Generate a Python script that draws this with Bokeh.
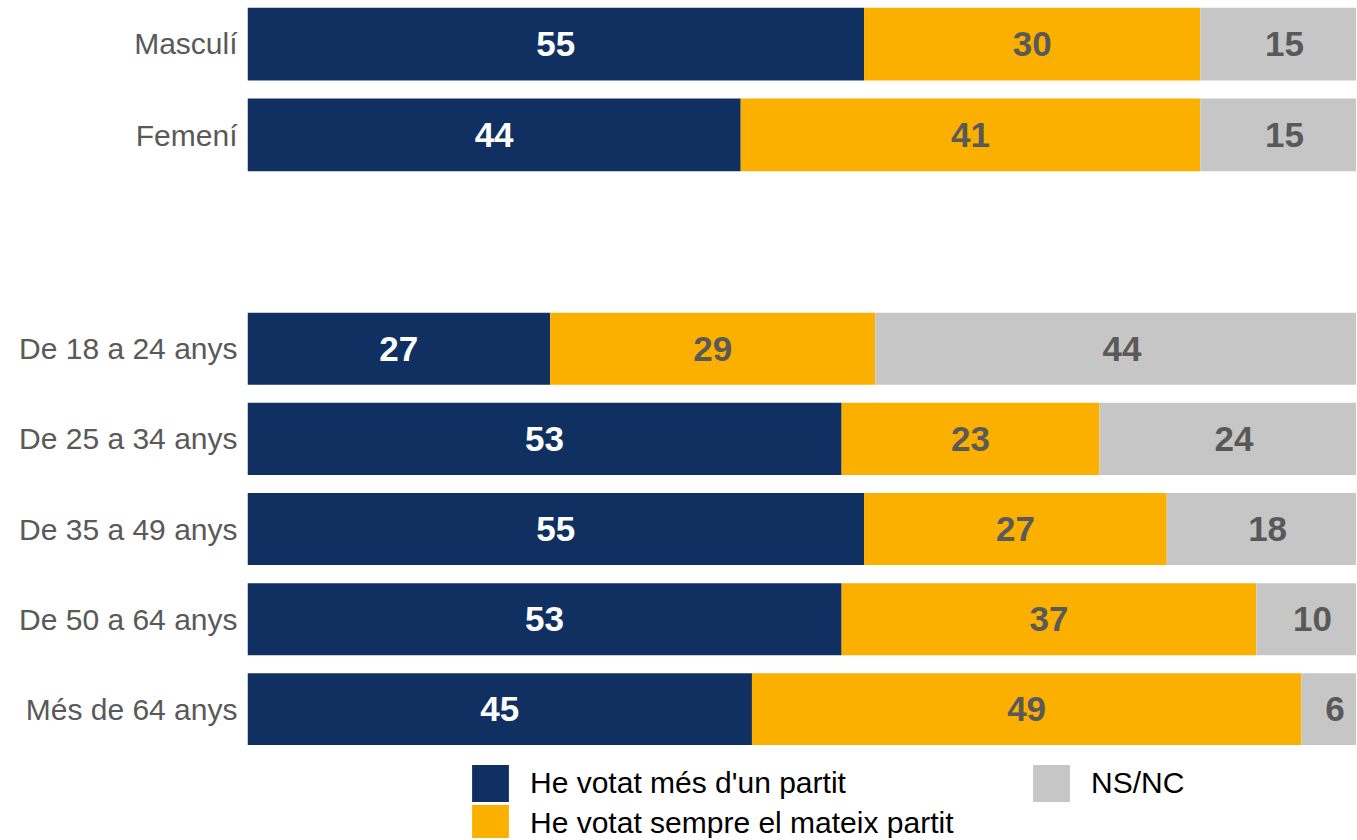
from bokeh.plotting import figure
from bokeh.models import ColumnDataSource, FactorRange, Range1d, Legend, LegendItem
from bokeh.layouts import column
from bokeh.embed import file_html
from bokeh.resources import INLINE
from bokeh.core.properties import value

# ---- data ----
series = ["He votat més d'un partit", "He votat sempre el mateix partit", "NS/NC"]
colors = ["#103062", "#FBB000", "#C6C6C6"]
value_colors = ["#FFFFFF", "#595959", "#595959"]

cats_sex = ["Masculí", "Femení"]
sex_multi = [55, 44]
sex_same = [30, 41]
sex_nsnc = [15, 15]

cats_age = ["De 18 a 24 anys", "De 25 a 34 anys", "De 35 a 49 anys", "De 50 a 64 anys", "Més de 64 anys"]
age_multi = [27, 53, 55, 53, 45]
age_same = [29, 23, 27, 37, 49]
age_nsnc = [44, 24, 18, 10, 6]

FONT = "Liberation Sans"
W = 1356
XMAX = 98.93


def make_fig(cats, vals, height, pad, border_top, border_bottom):
    yr = FactorRange(*list(reversed(cats)), range_padding=pad)
    p = figure(y_range=yr, x_range=Range1d(0, XMAX), width=W, height=height,
               output_backend="svg", toolbar_location=None, x_axis_location=None,
               min_border_left=247, min_border_right=0, min_border_top=border_top,
               min_border_bottom=border_bottom)
    p.outline_line_color = None
    p.grid.visible = False
    p.yaxis.axis_line_color = None
    p.yaxis.major_tick_line_color = None
    p.yaxis.major_tick_out = 0
    p.yaxis.major_tick_in = 0
    p.yaxis.minor_tick_line_color = None
    p.yaxis.major_label_standoff = 10
    p.yaxis.major_label_text_font = FONT
    p.yaxis.major_label_text_font_size = "30px"
    p.yaxis.major_label_text_color = "#595959"

    keys = ["s0", "s1", "s2"]
    data = {"cat": cats}
    for k, v in zip(keys, vals):
        data[k] = v
    src = ColumnDataSource(data)
    p.hbar_stack(keys, y="cat", height=0.8, color=colors, line_width=0, source=src)

    left = [0] * len(cats)
    for i, v in enumerate(vals):
        mids = [l + x / 2 for l, x in zip(left, v)]
        left = [l + x for l, x in zip(left, v)]
        tsrc = ColumnDataSource(dict(x=mids, y=cats, t=[str(x) for x in v]))
        p.text(x="x", y="y", text="t", source=tsrc, text_align="center",
               text_baseline="middle", text_font=value(FONT), text_font_style="bold",
               text_font_size="35px", text_color=value_colors[i])
    return p


top = make_fig(cats_sex, [sex_multi, sex_same, sex_nsnc], 312, -0.1, 7, 141)
bot = make_fig(cats_age, [age_multi, age_same, age_nsnc], 433, -0.04, 0, 0)

# legend panel (proxy renderers lie outside the visible range)
leg = figure(width=W, height=93, x_range=Range1d(0, 1), y_range=Range1d(0, 1),
             output_backend="svg", toolbar_location=None,
             x_axis_location=None, y_axis_location=None,
             min_border_left=0, min_border_right=0, min_border_top=0, min_border_bottom=0)
leg.outline_line_color = None
leg.grid.visible = False
lrends = [leg.hbar(y=[-5], right=[1], height=0.8, color=c, line_width=0) for c in colors]


def make_legend(label, rend, loc):
    lg = Legend(items=[LegendItem(label=label, renderers=[rend])], location=loc)
    lg.orientation = "vertical"
    lg.glyph_width = 46
    lg.glyph_height = 46
    lg.label_standoff = 17
    lg.spacing = 0
    lg.padding = 0
    lg.margin = 0
    lg.border_line_color = None
    lg.background_fill_alpha = 0
    lg.label_text_font = FONT
    lg.label_text_font_size = "30px"
    lg.label_text_color = "#000000"
    lg.label_height = 37
    return lg


leg.add_layout(make_legend(series[0], lrends[0], (220, 32)))
leg.add_layout(make_legend(series[1], lrends[1], (220, -8)))
leg.add_layout(make_legend(series[2], lrends[2], (781, 32)))

layout = column(top, bot, leg, spacing=0)
open("out.html", "w").write(file_html(layout, INLINE))
